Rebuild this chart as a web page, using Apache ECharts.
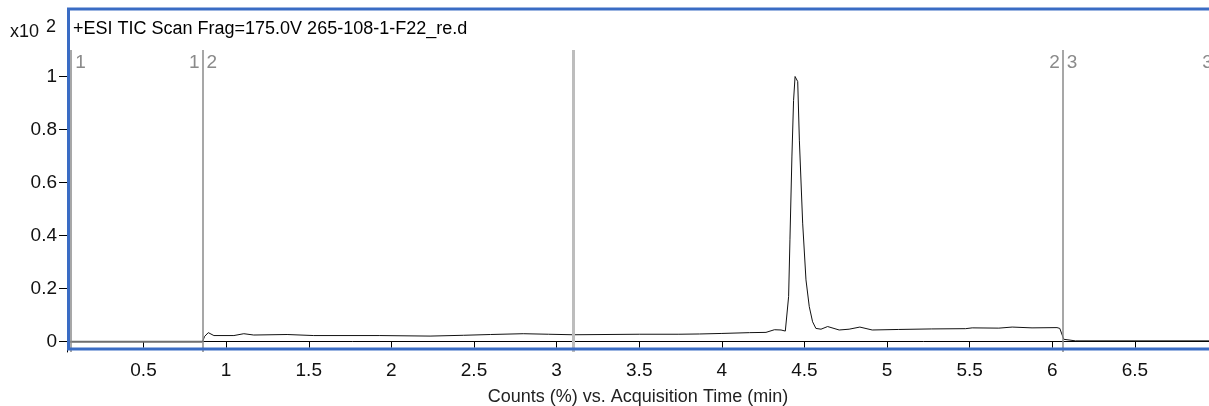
<!DOCTYPE html>
<html>
<head>
<meta charset="utf-8">
<script src="https://cdn.jsdelivr.net/npm/echarts@6/dist/echarts.min.js"></script>
<style>
html, body { margin: 0; padding: 0; background: #fff; }
#chart { width: 1209px; height: 406px; }
</style>
</head>
<body>
<div id="chart"></div>
<script>
// TIC trace (time in min, counts in x10^2 %)
const timeMin = [0.857, 0.87, 0.892, 0.926, 1.047, 1.107, 1.167, 1.369, 1.53, 1.93, 2.234, 2.436, 2.6, 2.798, 2.95, 3.1, 3.5, 3.74, 3.865, 4.0, 4.167, 4.267, 4.318, 4.358, 4.384, 4.392, 4.404, 4.412, 4.424, 4.434, 4.443, 4.459, 4.469, 4.489, 4.509, 4.529, 4.549, 4.569, 4.6, 4.64, 4.71, 4.77, 4.835, 4.91, 5.07, 5.27, 5.475, 5.515, 5.676, 5.757, 5.877, 6.028, 6.045, 6.069, 6.14, 6.5, 6.948];
const counts = [0.0, 0.02, 0.034, 0.023, 0.023, 0.030, 0.025, 0.027, 0.023, 0.023, 0.021, 0.024, 0.027, 0.030, 0.028, 0.026, 0.028, 0.028, 0.029, 0.031, 0.034, 0.035, 0.045, 0.044, 0.040, 0.044, 0.17, 0.384, 0.70, 0.91, 1.0, 0.981, 0.76, 0.447, 0.233, 0.132, 0.075, 0.05, 0.047, 0.057, 0.044, 0.047, 0.055, 0.044, 0.046, 0.048, 0.049, 0.052, 0.051, 0.055, 0.052, 0.053, 0.050, 0.009, 0.003, 0.003, 0.003];

// flat segment before the first cut
const baseTime = [0.037, 0.857];
const baseCounts = [0, 0];

const xTicks = [0.5, 1, 1.5, 2, 2.5, 3, 3.5, 4, 4.5, 5, 5.5, 6, 6.5];
const yTicks = [0, 0.2, 0.4, 0.6, 0.8, 1];

// segment markers: time, label left of the line, label right of the line
const markerTimes = [0.062, 0.857, 6.063, 6.99];
const markerLeft = ['', '1', '2', '3'];
const markerRight = ['1', '2', '3', ''];
const splitTime = 3.10;

const titleText = '+ESI TIC Scan Frag=175.0V 265-108-1-F22_re.d';
const xName = 'Counts (%) vs. Acquisition Time (min)';

const font = 'Liberation Sans, Arial, sans-serif';
const chart = echarts.init(document.getElementById('chart'));

const markLines = markerTimes.filter(t => t < 6.948).map(t => ({
    xAxis: t,
    lineStyle: { color: '#8a8a8a', width: 1.5, type: 'solid' }
}));
markLines.push({ xAxis: splitTime, lineStyle: { color: '#bdbdbd', width: 3, type: 'solid' } });

chart.setOption({
    animation: false,
    grid: { left: 67, right: 0, top: 50, bottom: 54, outerBoundsMode: 'none' },
    xAxis: {
        type: 'value',
        min: 0.037,
        max: 6.948,
        name: xName,
        nameLocation: 'middle',
        nameGap: 36,
        nameTextStyle: { color: '#222', fontSize: 18, fontFamily: font },
        axisLine: { lineStyle: { color: '#000', width: 1 } },
        axisTick: { show: true, length: 6, lineStyle: { color: '#000' }, customValues: xTicks },
        axisLabel: { color: '#111', fontSize: 19, fontFamily: font, margin: 9, customValues: xTicks, hideOverlap: false },
        splitLine: { show: false }
    },
    yAxis: {
        type: 'value',
        min: -0.039,
        max: 1.1,
        axisLine: { show: true, lineStyle: { color: '#000', width: 1 } },
        axisTick: { show: true, length: 8, lineStyle: { color: '#000' }, customValues: yTicks },
        axisLabel: { color: '#111', fontSize: 19, fontFamily: font, margin: 10, customValues: yTicks },
        splitLine: { show: false }
    },
    series: [
        {
            type: 'line',
            data: baseTime.map((t, i) => [t, baseCounts[i]]),
            symbol: 'none',
            lineStyle: { color: '#6e6e6e', width: 2 },
            silent: true
        },
        {
            type: 'line',
            data: timeMin.map((t, i) => [t, counts[i]]),
            symbol: 'none',
            lineStyle: { color: '#111', width: 1 },
            silent: true,
            markLine: {
                silent: true,
                symbol: 'none',
                label: { show: false },
                data: markLines
            }
        }
    ]
});

// frame, title, exponent and segment labels
const graphics = [
    {
        type: 'rect',
        shape: { x: 68.5, y: 9, width: 1160, height: 340 },
        style: { fill: 'none', stroke: '#3a6cc4', lineWidth: 3 },
        z: 10
    },
    {
        type: 'text', left: 73, top: 20,
        style: { text: titleText, fill: '#000', font: '18px ' + font }
    },
    {
        type: 'text', left: 10, top: 23,
        style: { text: 'x10', fill: '#111', font: '18px ' + font }
    },
    {
        type: 'text', left: 46, top: 18,
        style: { text: '2', fill: '#111', font: '18px ' + font }
    }
];
const labelY = chart.convertToPixel({ yAxisIndex: 0 }, 1.1) + 3;
markerTimes.forEach((t, i) => {
    const px = chart.convertToPixel({ xAxisIndex: 0 }, t);
    if (markerLeft[i]) {
        graphics.push({
            type: 'text', x: px - 3, y: labelY,
            style: { text: markerLeft[i], fill: '#8a8a8a', font: '19px ' + font, textAlign: 'right' }
        });
    }
    if (markerRight[i]) {
        graphics.push({
            type: 'text', x: px + 4, y: labelY,
            style: { text: markerRight[i], fill: '#8a8a8a', font: '19px ' + font, textAlign: 'left' }
        });
    }
});
chart.setOption({ graphic: graphics });
</script>
</body>
</html>
